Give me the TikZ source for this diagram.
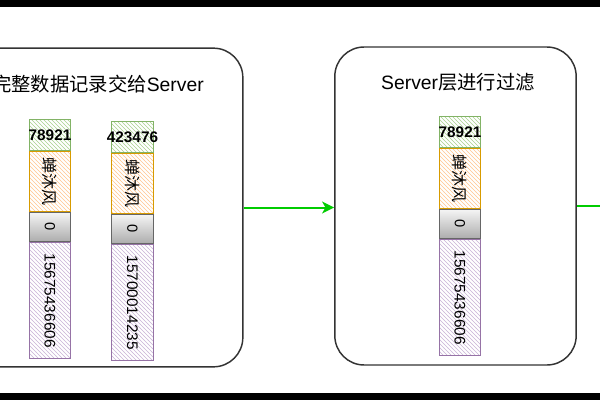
\documentclass[tikz,border=0pt]{standalone}
\usepackage{fontspec}
\setmainfont{Liberation Sans}
\newfontfamily\cjk{Noto Sans CJK SC}
\usepackage{tikz}
\usetikzlibrary{arrows.meta,patterns}
\definecolor{idline}{HTML}{82B366}
\definecolor{idfill}{HTML}{A9D18E}
\definecolor{nameline}{HTML}{D79B00}
\definecolor{namefill}{HTML}{FFC58F}
\definecolor{flagline}{HTML}{666666}
\definecolor{phoneline}{HTML}{9673A6}
\definecolor{phonefill}{HTML}{C9B3D6}
\definecolor{flowgreen}{HTML}{00CC00}
\tikzset{
  panel/.style={draw=black!80,line width=1.1pt,rounded corners=22pt,fill=white},
  title/.style={font=\fontsize{14.5}{17}\selectfont,inner sep=0pt},
  cell/.style={line width=0.8pt,inner sep=0pt,minimum height=31pt},
  idcell/.style={cell,anchor=north,draw=idline,pattern=north west lines,pattern color=idfill,
    minimum width=31pt,minimum height=23pt,font=\fontsize{11.5}{13}\selectfont\bfseries},
  namecell/.style={cell,rotate=-90,anchor=west,draw=nameline,pattern=north west lines,
    pattern color=namefill,minimum width=45pt,font=\fontsize{12}{14}\selectfont\cjk},
  flagcell/.style={cell,rotate=-90,anchor=west,draw=flagline,top color=gray!8,bottom color=gray!65,
    minimum width=22pt,font=\fontsize{11}{13}\selectfont},
  phonecell/.style={cell,rotate=-90,anchor=west,draw=phoneline,pattern=north west lines,
    pattern color=phonefill,minimum width=87pt,font=\fontsize{11.5}{13}\selectfont},
  flow/.style={-{Stealth[length=9pt,width=9pt,inset=2.5pt]},line width=1.5pt,flowgreen}
}
\begin{document}
\begin{tikzpicture}[x=0.75pt,y=-0.75pt]
\useasboundingbox (0,0) rectangle (600,400);
\clip (0,0) rectangle (600,400);
\fill[black] (0,0) rectangle (600,7);
\fill[black] (0,393) rectangle (600,400);

% the two stages
\node[panel,minimum width=257pt,minimum height=239pt] (left) at (71.5,207.5) {};
\node[panel,minimum width=181pt,minimum height=238.5pt] (right) at (455.5,206) {};
\node[title,anchor=east] (t1) at (204,84) {{\cjk 完整数据记录交给}Server};
\node[title] (t2) at (458,82) {Server{\cjk 层进行过滤}};

% record 1
\node[idcell] (a1) at (50,119) {\makebox[0pt]{78921}};
\node[namecell] (a2) at (a1.south) {蝉沐风};
\node[flagcell] (a3) at (a2.east) {0};
\node[phonecell] (a4) at (a3.east) {15675436606};

% record 2
\node[idcell] (b1) at (132.5,121) {\makebox[0pt]{423476}};
\node[namecell] (b2) at (b1.south) {蝉沐风};
\node[flagcell] (b3) at (b2.east) {0};
\node[phonecell] (b4) at (b3.east) {15700014235};

% record kept by the server
\node[idcell] (c1) at (460,116) {\makebox[0pt]{78921}};
\node[namecell] (c2) at (c1.south) {蝉沐风};
\node[flagcell] (c3) at (c2.east) {0};
\node[phonecell] (c4) at (c3.east) {15675436606};

\coordinate (edge) at (600,206);
\draw[flow] (left.east) -- (left.east -| right.west);
\draw[line width=1.5pt,flowgreen] (right.east) -- (edge);
\end{tikzpicture}
\end{document}
